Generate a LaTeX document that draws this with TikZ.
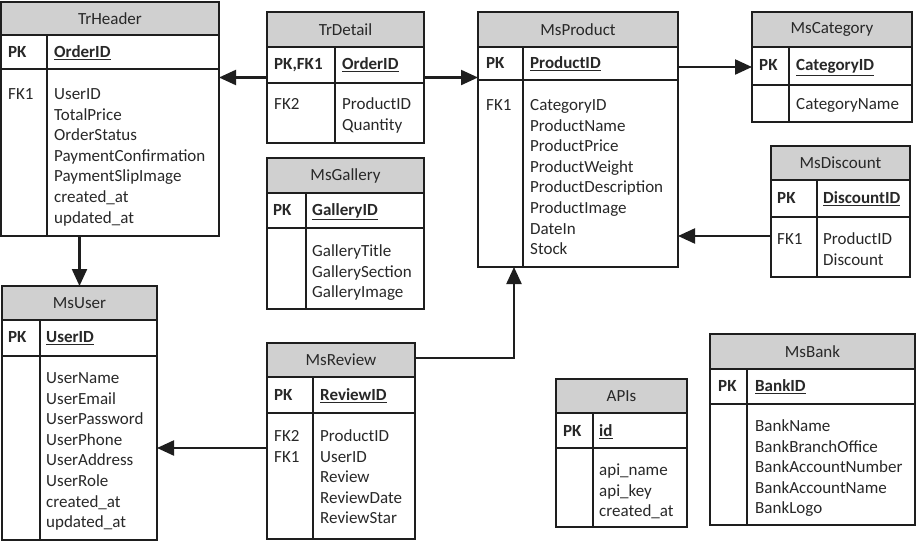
\documentclass[tikz,border=0pt]{standalone}
\usepackage{fontspec}
\setmainfont{Carlito}
\usetikzlibrary{arrows.meta}
\definecolor{hdrfill}{RGB}{208,208,208}
\definecolor{ink}{RGB}{30,30,30}
\definecolor{txt}{RGB}{40,40,40}
\tikzset{
  tblbox/.style={draw=ink, line width=1.3pt, inner sep=0pt, outer sep=0pt, rectangle},
  hdr/.style={fill=hdrfill},
  rule/.style={draw=ink, line width=1.3pt},
  ttl/.style={text=txt, font=\fontsize{17}{20}\selectfont, inner sep=0pt},
  fld/.style={text=txt, font=\fontsize{17}{20}\selectfont, inner sep=0pt, anchor=base west},
  pkl/.style={fld, font=\fontsize{17}{20}\selectfont\bfseries},
  conn/.style={draw=ink, line width=2.2pt, -{Triangle[length=17pt,width=15pt]}},
}
% name, title, x1, y1, x2, y2, divider x, header bottom, pk-row bottom
\newcommand\ertable[9]{%
  \fill[hdr] (#3,#4) rectangle (#5,#8);
  \draw[rule] (#3,#8) -- (#5,#8) (#3,#9) -- (#5,#9) (#7,#8) -- (#7,#6);
  \node[tblbox, minimum width={(#5-#3)*1pt}, minimum height={(#6-#4)*1pt}] (#1) at ({(#3+#5)/2},{(#4+#6)/2}) {};
  \node[ttl] (#1-title) at ({(#3+#5)/2},{(#4+#8)/2}) {#2};
}
% name, x label, x field, baseline, label, field
\newcommand\pkrow[6]{%
  \node[pkl] (#1-pk) at (#2,#4) {#5};
  \node[pkl] (#1-pkf) at (#3,#4) {\underline{#6}};
}
% name, x, first baseline, list
\newcommand\fieldlist[4]{%
  \foreach \t [count=\i from 0] in {#4} \node[fld] (#1-f\i) at (#2,{#3+\i*20.6}) {\t};
}
\begin{document}
\begin{tikzpicture}[x=1pt,y=-1pt]
\useasboundingbox (0,0) rectangle (916,541);
\fill[white] (0,0) rectangle (916,541);

% TrHeader
\ertable{TrHeader}{TrHeader}{1}{2}{219}{236}{47}{35}{69}
\pkrow{TrHeader}{8}{54}{57.5}{PK}{OrderID}
\node[fld] (TrHeader-fk1) at (8,99.5) {FK1};
\fieldlist{TrHeader}{54}{99.5}{UserID,TotalPrice,OrderStatus,PaymentConfirmation,PaymentSlipImage,created\_at,updated\_at}

% TrDetail
\ertable{TrDetail}{TrDetail}{267}{12}{424}{143}{335}{47}{83}
\pkrow{TrDetail}{274}{342}{69.5}{PK,FK1}{OrderID}
\node[fld] (TrDetail-fk2) at (274,109.5) {FK2};
\fieldlist{TrDetail}{342}{109.5}{ProductID,Quantity}

% MsProduct
\ertable{MsProduct}{MsProduct}{478}{12}{678}{267}{523}{47}{80}
\pkrow{MsProduct}{486}{530}{68.5}{PK}{ProductID}
\node[fld] (MsProduct-fk1) at (486,110.5) {FK1};
\fieldlist{MsProduct}{530}{110.5}{CategoryID,ProductName,ProductPrice,ProductWeight,ProductDescription,ProductImage,DateIn,Stock}

% MsCategory
\ertable{MsCategory}{MsCategory}{752}{12}{912}{122}{789}{47}{85}
\pkrow{MsCategory}{759}{796}{70.5}{PK}{CategoryID}
\fieldlist{MsCategory}{796}{109.5}{CategoryName}

% MsDiscount
\ertable{MsDiscount}{MsDiscount}{771}{146}{910}{277}{817}{180}{217}
\pkrow{MsDiscount}{777}{823}{203.5}{PK}{DiscountID}
\node[fld] (MsDiscount-fk1) at (777,244.5) {FK1};
\fieldlist{MsDiscount}{823}{244.5}{ProductID,Discount}

% MsGallery
\ertable{MsGallery}{MsGallery}{267}{158}{424}{309}{306}{193}{228}
\pkrow{MsGallery}{273}{312}{215.5}{PK}{GalleryID}
\fieldlist{MsGallery}{312}{256.5}{GalleryTitle,GallerySection,GalleryImage}

% MsUser
\ertable{MsUser}{MsUser}{2}{286}{157}{540}{40}{320}{356}
\pkrow{MsUser}{8}{46}{342.5}{PK}{UserID}
\fieldlist{MsUser}{46}{383.5}{UserName,UserEmail,UserPassword,UserPhone,UserAddress,UserRole,created\_at,updated\_at}

% MsReview
\ertable{MsReview}{MsReview}{267}{343}{415}{539}{313}{377}{413}
\pkrow{MsReview}{274}{320}{400.5}{PK}{ReviewID}
\node[fld] (MsReview-fk2) at (274,441.5) {FK2};
\node[fld] (MsReview-fk1) at (274,462.1) {FK1};
\fieldlist{MsReview}{320}{441.5}{ProductID,UserID,Review,ReviewDate,ReviewStar}

% APIs
\ertable{APIs}{APIs}{556}{379}{687}{527}{593}{413}{448}
\pkrow{APIs}{563}{599}{436.5}{PK}{id}
\fieldlist{APIs}{599}{475.5}{api\_name,api\_key,created\_at}

% MsBank
\ertable{MsBank}{MsBank}{710}{334}{915}{525}{747}{369}{404}
\pkrow{MsBank}{718}{755}{391.5}{PK}{BankID}
\fieldlist{MsBank}{755}{431.5}{BankName,BankBranchOffice,BankAccountNumber,BankAccountName,BankLogo}

% connectors
\coordinate (cat) at (0,67);
\coordinate (dis) at (0,236);
\coordinate (rb) at (514,358);
\coordinate (ru) at (0,448);
\draw[conn] (TrDetail.west) -- (TrHeader.east |- TrDetail.west);
\draw[conn] (TrDetail.east) -- (MsProduct.west |- TrDetail.east);
\draw[conn] (MsProduct.east |- cat) -- (MsCategory.west |- cat);
\draw[conn] (MsDiscount.west |- dis) -- (MsProduct.east |- dis);
\draw[conn] (TrHeader.south -| MsUser.north) -- (MsUser.north);
\draw[conn] (MsReview.east |- rb) -- (rb) -- (MsProduct.south -| rb);
\draw[conn] (MsReview.west |- ru) -- (MsUser.east |- ru);
\end{tikzpicture}
\end{document}
